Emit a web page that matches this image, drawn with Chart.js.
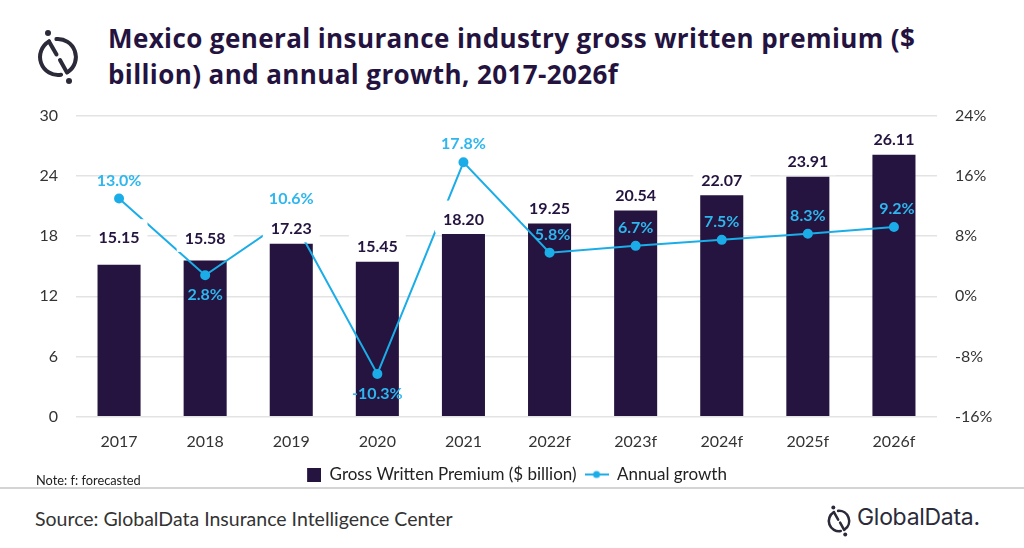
<!DOCTYPE html>
<html>
<head>
<meta charset="utf-8">
<script src="https://cdn.jsdelivr.net/npm/chart.js@4.4.1/dist/chart.umd.min.js"></script>
<style>
  html, body { margin: 0; padding: 0; background: #fff; }
  body { width: 1024px; height: 548px; position: relative; overflow: hidden; font-family: Lato, "Open Sans", sans-serif; }
  #title { position: absolute; left: 108px; top: 20px; font-family: "Open Sans", Lato, sans-serif; font-weight: 700; font-size: 26px; line-height: 36px; letter-spacing: 0.4px; color: #24133F; white-space: nowrap; }
  #logo { position: absolute; left: 30px; top: 27px; }
  #wrap { position: absolute; left: 0; top: 88px; width: 1024px; height: 409px; }
  #note { position: absolute; left: 36px; top: 472px; font-size: 12.8px; color: #222; }
  #sep { position: absolute; left: 0; top: 487px; width: 1024px; height: 2px; background: #d4d4d4; }
  #source { position: absolute; left: 35px; top: 507px; font-size: 19.5px; color: #333; }
  #gd { position: absolute; left: 823px; top: 504px; }
  #gdtext { position: absolute; left: 857px; top: 503px; font-family: Inter, Roboto, sans-serif; font-size: 23px; color: #2b2b3a; letter-spacing: -0.3px; }
</style>
</head>
<body>
<svg id="logo" width="56" height="60" viewBox="0 0 56 60">
  <g fill="none" stroke="#2b2a38" stroke-width="4" stroke-linecap="round">
    <path d="M 19 14.4 A 18 18 0 0 0 31.1 47.7" />
    <path d="M 26.4 12.1 A 18 18 0 0 1 38.3 44.7" />
    <path d="M 19 14.4 L 26.5 27.5" />
    <path d="M 30 33 L 37 45.6" />
  </g>
  <circle cx="18" cy="6" r="3" fill="#2b2a38"/>
  <circle cx="39" cy="54" r="3" fill="#2b2a38"/>
</svg>
<div id="title">Mexico general insurance industry gross written premium ($<br>billion) and annual growth, 2017-2026f</div>
<div id="wrap"><canvas id="chart"></canvas></div>
<div id="note">Note: f: forecasted</div>
<div id="sep"></div>
<div id="source">Source: GlobalData Insurance Intelligence Center</div>
<svg id="gd" width="32" height="34" viewBox="0 0 56 60">
  <g fill="none" stroke="#2b2a38" stroke-width="4.5" stroke-linecap="round">
    <path d="M 19 14.4 A 18 18 0 0 0 31.1 47.7" />
    <path d="M 26.4 12.1 A 18 18 0 0 1 38.3 44.7" />
    <path d="M 19 14.4 L 26.5 27.5" />
    <path d="M 30 33 L 37 45.6" />
  </g>
  <circle cx="18" cy="6" r="3.5" fill="#2b2a38"/>
  <circle cx="39" cy="54" r="3.5" fill="#2b2a38"/>
</svg>
<div id="gdtext">GlobalData.</div>

<script>
// donnees
const annees = ["2017", "2018", "2019", "2020", "2021", "2022f", "2023f", "2024f", "2025f", "2026f"];
const primes = [15.15, 15.58, 17.23, 15.45, 18.20, 19.25, 20.54, 22.07, 23.91, 26.11];
const croissance = [13.0, 2.8, 10.6, -10.3, 17.8, 5.8, 6.7, 7.5, 8.3, 9.2];
const ticksGauche = [0, 6, 12, 18, 24, 30];
const ticksDroite = [-16, -8, 0, 8, 16, 24];

const corBarra = "#24143F";
const corLinha = "#1BADE8";
const corRotuloLinha = "#2DB7EE";

// petits dessins pour la legende
function marqueur(w, h, desenho) {
    const c = document.createElement("canvas");
    c.width = w; c.height = h;
    desenho(c.getContext("2d"));
    return c;
}
// carre colle a droite pour que le texte suive de pres
const iconeBarra = marqueur(24, 14, g => { g.fillStyle = corBarra; g.fillRect(10, 0, 14, 14); });
const iconeLinha = marqueur(24, 10, g => {
    g.strokeStyle = corLinha; g.lineWidth = 2;
    g.beginPath(); g.moveTo(0, 5); g.lineTo(24, 5); g.stroke();
    g.fillStyle = corLinha; g.beginPath(); g.arc(12, 5, 3.5, 0, Math.PI * 2); g.fill();
});

// rotulos das barras (com caixa branca) e da linha
const rotulos = {
    id: "rotulos",
    afterDatasetsDraw(chart, args, opts) {
        const ctx = chart.ctx;
        ctx.save();
        ctx.font = "bold 16px Lato";
        ctx.textAlign = "center";
        ctx.textBaseline = "middle";

        const barras = chart.getDatasetMeta(0).data;
        barras.forEach((b, i) => {
            const txt = primes[i].toFixed(2);
            const w = ctx.measureText(txt).width + 16;
            const cy = b.y - 15.5 - (opts.elevar[i] || 0);
            ctx.fillStyle = "#fff";
            ctx.fillRect(b.x - w / 2, cy - 18, w, 32);
            ctx.fillStyle = corBarra;
            ctx.fillText(txt, b.x, cy + 1);
        });

        const pontos = chart.getDatasetMeta(1).data;
        pontos.forEach((p, i) => {
            const txt = croissance[i].toFixed(1) + "%";
            const dy = opts.posicao[i] === "below" ? 19 : -19;
            ctx.fillStyle = corRotuloLinha;
            ctx.fillText(txt, p.x + (opts.dx[i] || 0), p.y + dy + 1);
        });
        ctx.restore();
    }
};

new Chart(document.getElementById("chart"), {
    data: {
        labels: annees,
        datasets: [
            {
                type: "bar",
                label: "Gross Written Premium ($ billion)",
                data: primes,
                backgroundColor: corBarra,
                categoryPercentage: 1,
                barPercentage: 0.5,
                yAxisID: "y",
                order: 1
            },
            {
                type: "line",
                label: "Annual growth",
                data: croissance,
                borderColor: corLinha,
                backgroundColor: corLinha,
                borderWidth: 2,
                pointRadius: 4,
                pointHoverRadius: 4,
                tension: 0,
                yAxisID: "y1",
                order: 0
            }
        ]
    },
    options: {
        responsive: true,
        maintainAspectRatio: false,
        animation: false,
        layout: { padding: { top: 12, bottom: 4 } },
        scales: {
            x: {
                grid: { display: false },
                border: { display: false },
                ticks: { color: "#333", font: { family: "Lato", size: 16 }, padding: 7 }
            },
            y: {
                position: "left",
                min: 0, max: 30,
                afterBuildTicks: s => { s.ticks = ticksGauche.map(v => ({ value: v })); },
                afterFit: s => { s.width = 76; },
                grid: { color: "#e3e3e3", lineWidth: 1.5, drawTicks: false },
                border: { display: false },
                ticks: { color: "#333", font: { family: "Lato", size: 16 }, padding: 18 }
            },
            y1: {
                position: "right",
                min: -16, max: 24,
                afterBuildTicks: s => { s.ticks = ticksDroite.map(v => ({ value: v })); },
                afterFit: s => { s.width = 87; },
                grid: { display: false, drawTicks: false },
                border: { display: false },
                ticks: { color: "#333", font: { family: "Lato", size: 16 }, padding: 18, callback: v => v + "%" }
            }
        },
        plugins: {
            tooltip: { enabled: false },
            legend: {
                position: "bottom",
                labels: {
                    usePointStyle: true,
                    pointStyleWidth: 24,
                    padding: 8,
                    color: "#222",
                    font: { family: "Lato", size: 17 },
                    generateLabels: () => [
                        { text: "Gross Written Premium ($ billion)", pointStyle: iconeBarra, datasetIndex: 0, fontColor: "#222" },
                        { text: "Annual growth", pointStyle: iconeLinha, datasetIndex: 1, fontColor: "#222" }
                    ]
                }
            },
            rotulos: {
                elevar: [12, 7, 0, 0, 0, 0, 0, 0, 0, 0],
                posicao: ["above", "below", "above", "below", "above", "above", "above", "above", "above", "above"],
                dx: [0, 0, 0, 0, 0, 3, 0, 0, 0, 3]
            }
        }
    },
    plugins: [rotulos]
});
</script>
</body>
</html>
